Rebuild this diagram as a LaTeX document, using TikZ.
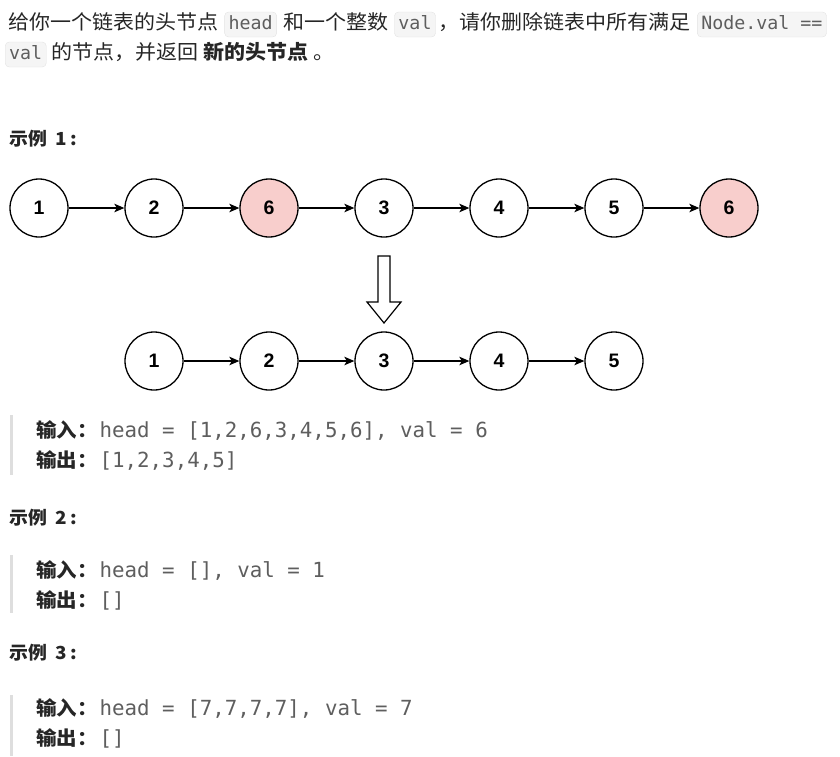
\documentclass[tikz,border=0pt]{standalone}
\usepackage{fontspec}
\usetikzlibrary{positioning,arrows.meta}
\setmainfont{Noto Sans CJK SC}[FakeStretch=1.05]
\setmonofont{DejaVu Sans Mono}
\newfontfamily\numfont{Liberation Sans}
\definecolor{bodytext}{HTML}{262626}
\definecolor{codegray}{HTML}{5E5E5E}
\definecolor{codefill}{HTML}{F5F5F5}
\definecolor{codeline}{HTML}{E3E3E3}
\definecolor{quotebar}{HTML}{DEDEDE}
\definecolor{delfill}{HTML}{F8CECC}
\tikzstyle{plain} = [inner sep=0pt, text=bodytext, font=\fontsize{20}{24}\selectfont]
\tikzstyle{codebox} = [fill=codefill, draw=codeline, rounded corners=4pt, inner xsep=4pt,
    inner ysep=4pt, text height=13pt, text depth=4pt, text=codegray,
    font=\ttfamily\fontsize{18.3}{20}\selectfont]
\tikzstyle{heading} = [inner sep=0pt, anchor=base west, text=bodytext,
    font=\bfseries\fontsize{18}{22}\selectfont]
\tikzstyle{ioline} = [inner sep=0pt, anchor=base west, text=bodytext,
    font=\fontsize{19.5}{22}\selectfont]
\tikzstyle{lnode} = [circle, draw=black, line width=1.3pt, minimum size=58pt, inner sep=0pt,
    fill=white, font=\numfont\bfseries\fontsize{19.5}{20}\selectfont]
\tikzstyle{delnode} = [lnode, fill=delfill]
\tikzstyle{conn} = [line width=1.3pt, -{Stealth[length=10pt, width=8.5pt, inset=2.5pt]}]
\newcommand{\io}[2]{{\bfseries #1：}\hspace{2pt}{\ttfamily\color{codegray}\fontsize{20.8}{22}\selectfont #2}}

\begin{document}
\begin{tikzpicture}[x=1pt, y=-1pt, node distance=55.7pt]
    \useasboundingbox (0,0) rectangle (840,756);

    % problem text
    \node[plain, anchor=base west] (t1) at (8,29) {给你一个链表的头节点};
    \node[codebox, base right=6pt of t1] (c1) {head};
    \node[plain, base right=6pt of c1] (t2) {和一个整数};
    \node[codebox, base right=6pt of t2] (c2) {val};
    \node[plain, base right=3pt of c2] (t3) {，请你删除链表中所有满足};
    \node[codebox, base right=6pt of t3] (c3) {Node.val ==};
    \node[codebox, anchor=base west] (c4) at (5,59) {val};
    \node[plain, base right=5pt of c4] (t4) {的节点，并返回 {\bfseries 新的头节点} 。};

    % example 1
    \node[heading] (h1) at (9,145) {示例\hspace{0.45em}1\hspace{0.2em}:};

    \node[lnode] (a1) at (39,208) {1};
    \node[lnode, right=of a1] (a2) {2};
    \node[delnode, right=of a2] (a3) {6};
    \node[lnode, right=of a3] (a4) {3};
    \node[lnode, right=of a4] (a5) {4};
    \node[lnode, right=of a5] (a6) {5};
    \node[delnode, right=of a6] (a7) {6};
    \draw[conn] (a1) -- (a2);
    \draw[conn] (a2) -- (a3);
    \draw[conn] (a3) -- (a4);
    \draw[conn] (a4) -- (a5);
    \draw[conn] (a5) -- (a6);
    \draw[conn] (a6) -- (a7);

    \draw[line width=1.2pt, fill=white] (378,256) -- (390,256) -- (390,302) -- (401,302)
        -- (384,323) -- (367,302) -- (378,302) -- cycle;

    \node[lnode] (b1) at (154,361) {1};
    \node[lnode, right=of b1] (b2) {2};
    \node[lnode, right=of b2] (b3) {3};
    \node[lnode, right=of b3] (b4) {4};
    \node[lnode, right=of b4] (b5) {5};
    \draw[conn] (b1) -- (b2);
    \draw[conn] (b2) -- (b3);
    \draw[conn] (b3) -- (b4);
    \draw[conn] (b4) -- (b5);

    \fill[quotebar] (10,415) rectangle (13,475);
    \node[ioline] (i1) at (36,437) {\io{输入}{head = [1,2,6,3,4,5,6], val = 6}};
    \node[ioline] (o1) at (36,467) {\io{输出}{[1,2,3,4,5]}};

    % example 2
    \node[heading] (h2) at (9,524) {示例\hspace{0.45em}2\hspace{0.2em}:};
    \fill[quotebar] (10,555) rectangle (13,613);
    \node[ioline] (i2) at (36,577) {\io{输入}{head = [], val = 1}};
    \node[ioline] (o2) at (36,607) {\io{输出}{[]}};

    % example 3
    \node[heading] (h3) at (9,659) {示例\hspace{0.45em}3\hspace{0.2em}:};
    \fill[quotebar] (10,695) rectangle (13,756);
    \node[ioline] (i3) at (36,715) {\io{输入}{head = [7,7,7,7], val = 7}};
    \node[ioline] (o3) at (36,745) {\io{输出}{[]}};
\end{tikzpicture}
\end{document}
